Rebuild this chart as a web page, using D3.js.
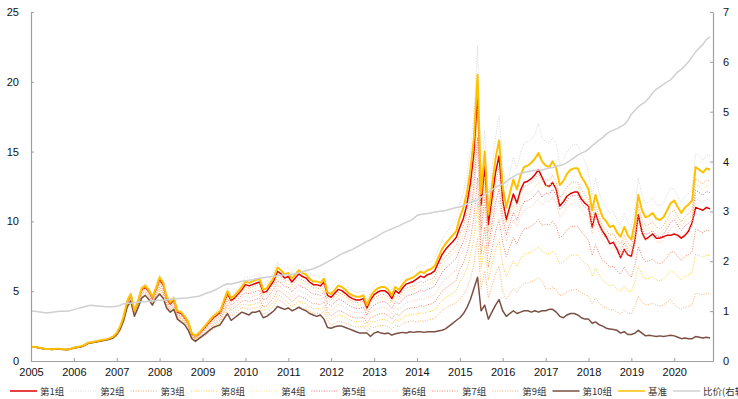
<!DOCTYPE html>
<html><head><meta charset="utf-8">
<script src="https://cdn.jsdelivr.net/npm/d3@7"></script>
<style>
body{margin:0;background:#fff}
svg{display:block}
.axis text{font-family:"Liberation Sans",Arial,sans-serif;font-size:11px;fill:#111}
.axis path,.axis line{stroke:#a0a0a0}
.leg text{font-family:"Noto Sans CJK SC","Liberation Sans",sans-serif;font-size:9.5px;fill:#333}
</style>
</head><body>
<svg id="c" width="738" height="399"></svg>
<script>
// ---- data ----
const dates = d3.timeMonth.range(new Date(2005,0,1), new Date(2020,11,1)); // Jan 2005 .. Nov 2020
const yearTicks = [2005,2006,2007,2008,2009,2010,2011,2012,2013,2014,2015,2016,2017,2018,2019,2020];
const leftTicks = [0,5,10,15,20,25];
const rightTicks = [0,1,2,3,4,5,6,7];

const g1 = [1.00,1.02,0.96,0.93,0.86,0.86,0.84,0.88,0.87,0.84,0.82,0.86,
0.95,1.00,1.04,1.14,1.29,1.33,1.38,1.43,1.48,1.53,1.60,1.72,
1.96,2.45,3.14,4.21,4.70,3.53,4.21,5.10,5.29,5.00,4.51,5.10,
5.82,5.43,4.46,4.07,4.37,3.49,3.40,3.10,2.72,1.94,1.75,1.94,
2.21,2.50,2.78,3.07,3.26,3.46,4.13,4.80,4.32,4.51,4.80,5.09,
5.47,5.38,5.47,5.57,5.66,4.90,4.99,5.38,5.76,6.43,6.24,5.95,
6.05,5.66,5.95,6.24,6.05,5.95,5.66,5.47,5.47,5.38,5.66,4.70,
4.56,4.85,5.13,5.04,4.85,4.61,4.47,4.37,4.37,4.47,3.80,4.37,
4.75,4.94,5.04,5.04,4.85,4.47,5.04,4.85,5.23,5.51,5.61,5.70,
5.89,6.08,5.99,6.18,6.27,6.46,7.03,7.60,7.98,8.27,8.55,8.84,
9.58,10.23,11.16,12.74,14.88,19.07,11.16,13.95,9.77,11.63,13.49,14.69,
11.50,10.12,11.04,11.96,11.32,12.24,12.79,12.88,13.06,13.34,13.71,13.16,
12.6,12.5,12.8,12.3,11.1,11.4,11.8,12.0,12.1,12.1,11.6,11.3,
11.1,9.6,10.6,9.8,9.3,8.9,8.4,8.5,8.0,7.4,8.0,7.6,
7.5,8.7,10.5,9.2,8.7,8.9,9.1,8.8,8.8,8.9,9.0,9.0,
9.1,9.0,8.8,9.0,9.3,9.9,11.0,10.9,10.8,11.0,10.9];

const g2 = [1.00,1.02,0.96,0.93,0.86,0.86,0.84,0.88,0.87,0.84,0.82,0.86,
0.96,1.01,1.06,1.17,1.32,1.38,1.43,1.48,1.53,1.58,1.66,1.79,
2.06,2.58,3.30,4.43,4.94,3.71,4.43,5.36,5.56,5.25,4.74,5.36,
6.24,5.82,4.78,4.37,4.68,3.74,3.64,3.33,2.91,2.08,1.87,2.08,
2.42,2.73,3.05,3.36,3.57,3.78,4.52,5.25,4.73,4.94,5.25,5.57,
6.04,5.94,6.04,6.15,6.25,5.41,5.51,5.94,6.36,7.10,6.89,6.57,
6.74,6.31,6.63,6.96,6.74,6.63,6.31,6.10,6.10,5.99,6.31,5.24,
5.14,5.46,5.78,5.67,5.46,5.19,5.03,4.92,4.92,5.03,4.28,4.92,
5.40,5.62,5.72,5.72,5.51,5.08,5.72,5.51,5.94,6.26,6.37,6.48,
6.70,6.91,6.80,7.02,7.13,7.34,7.99,8.64,9.07,9.40,9.72,10.04,
11.3,12.1,13.2,15.1,17.6,22.6,13.2,16.5,11.6,13.8,16.0,17.6,
14.0,12.3,13.4,14.6,13.8,14.9,15.6,15.7,15.9,16.2,17.0,16.0,
15.7,15.6,16.0,15.5,14.1,14.4,15.0,15.3,15.5,15.5,14.8,14.3,
13.5,11.9,13.1,12.1,11.3,11.0,10.6,10.7,10.1,9.8,10.6,9.9,
9.6,11.0,13.1,11.9,11.3,11.4,11.7,11.2,11.1,11.3,11.9,12.4,
12.3,11.8,11.3,11.8,12.0,12.3,14.9,14.7,14.4,14.8,14.7];

const g3 = [1.00,1.02,0.96,0.93,0.86,0.86,0.84,0.88,0.87,0.84,0.82,0.86,
0.94,0.99,1.04,1.14,1.29,1.34,1.39,1.44,1.49,1.53,1.60,1.73,
1.96,2.45,3.14,4.21,4.70,3.53,4.21,5.10,5.29,5.00,4.51,5.10,
5.76,5.38,4.42,4.03,4.32,3.46,3.36,3.07,2.69,1.92,1.73,1.92,
2.19,2.47,2.76,3.04,3.23,3.42,4.09,4.75,4.28,4.47,4.75,5.04,
5.30,5.21,5.30,5.39,5.49,4.74,4.84,5.21,5.58,6.23,6.05,5.77,
5.80,5.43,5.70,5.98,5.80,5.70,5.43,5.24,5.24,5.15,5.43,4.51,
4.37,4.64,4.91,4.82,4.64,4.41,4.28,4.19,4.19,4.28,3.64,4.19,
4.50,4.68,4.77,4.77,4.59,4.23,4.77,4.59,4.95,5.22,5.31,5.40,
5.52,5.70,5.61,5.79,5.87,6.05,6.59,7.12,7.48,7.74,8.01,8.28,
9.06,9.68,10.56,12.06,14.08,18.04,10.56,13.20,9.24,11.00,12.76,13.90,
11.25,9.90,10.80,11.70,11.07,11.97,12.51,12.60,12.78,13.05,13.41,12.87,
13.02,12.93,13.30,12.83,11.72,12.00,12.46,12.74,12.83,12.83,12.28,11.90,
11.56,10.15,11.19,10.34,9.68,9.40,9.02,9.12,8.65,8.37,9.02,8.46,
8.18,9.40,11.19,10.15,9.68,9.78,9.96,9.59,9.49,9.68,10.15,10.62,
10.81,10.34,9.96,10.34,10.53,10.81,13.07,12.88,12.69,12.97,12.88];

const g4 = [1.00,1.02,0.96,0.93,0.86,0.86,0.84,0.88,0.87,0.84,0.82,0.86,
0.94,0.99,1.04,1.14,1.29,1.34,1.39,1.44,1.49,1.53,1.60,1.73,
1.92,2.40,3.07,4.13,4.61,3.46,4.13,4.99,5.18,4.90,4.42,4.99,
5.64,5.26,4.32,3.95,4.23,3.38,3.29,3.01,2.63,1.88,1.69,1.88,
2.12,2.39,2.67,2.94,3.13,3.31,3.96,4.60,4.14,4.32,4.60,4.88,
5.13,5.04,5.13,5.22,5.31,4.59,4.68,5.04,5.40,6.03,5.85,5.58,
5.54,5.19,5.46,5.72,5.54,5.46,5.19,5.02,5.02,4.93,5.19,4.31,
4.18,4.44,4.70,4.61,4.44,4.22,4.09,4.00,4.00,4.09,3.48,4.00,
4.30,4.47,4.56,4.56,4.39,4.04,4.56,4.39,4.73,4.99,5.07,5.16,
5.27,5.44,5.36,5.53,5.61,5.78,6.29,6.80,7.14,7.40,7.65,7.91,
8.55,9.13,9.96,11.37,13.28,17.02,9.96,12.45,8.72,10.38,12.04,13.11,
10.75,9.46,10.32,11.18,10.58,11.44,11.95,12.04,12.21,12.47,12.81,12.30,
12.60,12.51,12.87,12.42,11.34,11.61,12.06,12.33,12.42,12.42,11.88,11.52,
11.19,9.83,10.83,10.01,9.37,9.10,8.74,8.83,8.37,8.10,8.74,8.19,
7.92,9.10,10.83,9.83,9.37,9.46,9.65,9.28,9.19,9.37,9.83,10.28,
10.47,10.01,9.65,10.01,10.19,10.47,12.65,12.47,12.29,12.56,12.47];

const g5 = [1.00,1.01,0.95,0.92,0.85,0.85,0.83,0.87,0.86,0.83,0.81,0.85,
0.93,0.98,1.03,1.13,1.27,1.32,1.37,1.42,1.47,1.52,1.59,1.72,
1.90,2.38,3.04,4.09,4.56,3.42,4.09,4.94,5.13,4.85,4.37,4.94,
5.52,5.15,4.23,3.86,4.14,3.31,3.22,2.94,2.58,1.84,1.66,1.84,
2.05,2.31,2.58,2.85,3.03,3.20,3.83,4.45,4.01,4.18,4.45,4.72,
4.90,4.82,4.90,4.99,5.07,4.39,4.47,4.82,5.16,5.76,5.59,5.33,
5.29,4.96,5.21,5.46,5.29,5.21,4.96,4.79,4.79,4.70,4.96,4.12,
3.94,4.18,4.43,4.35,4.18,3.98,3.85,3.77,3.77,3.85,3.28,3.77,
4.00,4.16,4.24,4.24,4.08,3.76,4.24,4.08,4.40,4.64,4.72,4.80,
4.90,5.06,4.98,5.14,5.21,5.37,5.85,6.32,6.64,6.87,7.11,7.35,
8.03,8.58,9.36,10.69,12.48,15.99,9.36,11.70,8.19,9.75,11.31,12.32,
10.25,9.02,9.84,10.66,10.09,10.91,11.40,11.48,11.64,11.89,12.22,11.73,
12.04,11.95,12.30,11.87,10.84,11.09,11.52,11.78,11.87,11.87,11.35,11.01,
10.82,9.50,10.47,9.68,9.06,8.80,8.45,8.54,8.10,7.83,8.45,7.92,
7.66,8.80,10.47,9.50,9.06,9.15,9.33,8.98,8.89,9.06,9.50,9.94,
10.12,9.68,9.33,9.68,9.86,10.12,12.23,12.06,11.88,12.14,12.06];

const g6 = [0.99,1.01,0.95,0.92,0.85,0.85,0.83,0.87,0.86,0.83,0.81,0.85,
0.92,0.97,1.02,1.12,1.26,1.31,1.36,1.41,1.46,1.50,1.57,1.70,
1.86,2.33,2.98,4.00,4.46,3.35,4.00,4.84,5.02,4.74,4.28,4.84,
5.40,5.04,4.14,3.78,4.05,3.24,3.15,2.88,2.52,1.80,1.62,1.80,
1.96,2.21,2.47,2.72,2.89,3.06,3.66,4.25,3.83,4.00,4.25,4.51,
4.62,4.54,4.62,4.70,4.78,4.13,4.21,4.54,4.86,5.43,5.27,5.02,
4.91,4.60,4.84,5.07,4.91,4.84,4.60,4.45,4.45,4.37,4.60,3.82,
3.60,3.83,4.05,3.98,3.83,3.64,3.53,3.45,3.45,3.53,3.00,3.45,
3.60,3.74,3.82,3.82,3.67,3.38,3.82,3.67,3.96,4.18,4.25,4.32,
4.34,4.48,4.41,4.55,4.62,4.76,5.18,5.60,5.88,6.09,6.30,6.51,
7.52,8.03,8.76,10.00,11.68,14.97,8.76,10.95,7.67,9.13,10.59,11.53,
9.75,8.58,9.36,10.14,9.59,10.37,10.84,10.92,11.08,11.31,11.62,11.15,
11.48,11.40,11.73,11.32,10.33,10.58,10.99,11.23,11.32,11.32,10.82,10.50,
10.33,9.07,10.00,9.24,8.65,8.40,8.06,8.15,7.73,7.48,8.06,7.56,
7.31,8.40,10.00,9.07,8.65,8.74,8.90,8.57,8.48,8.65,9.07,9.49,
9.66,9.24,8.90,9.24,9.41,9.66,11.68,11.51,11.34,11.59,11.51];

const g7 = [0.99,1.01,0.95,0.92,0.85,0.85,0.83,0.87,0.86,0.83,0.81,0.85,
0.92,0.97,1.02,1.12,1.26,1.31,1.36,1.41,1.46,1.50,1.57,1.70,
1.84,2.30,2.94,3.96,4.42,3.31,3.96,4.78,4.97,4.69,4.23,4.78,
5.28,4.93,4.05,3.70,3.96,3.17,3.08,2.82,2.46,1.76,1.58,1.76,
1.86,2.11,2.35,2.59,2.75,2.92,3.48,4.05,3.65,3.81,4.05,4.29,
4.33,4.26,4.33,4.41,4.48,3.88,3.95,4.26,4.56,5.09,4.94,4.71,
4.54,4.25,4.46,4.68,4.54,4.46,4.25,4.10,4.10,4.03,4.25,3.53,
3.22,3.42,3.62,3.55,3.42,3.25,3.15,3.08,3.08,3.15,2.68,3.08,
3.20,3.33,3.39,3.39,3.26,3.01,3.39,3.26,3.52,3.71,3.78,3.84,
3.84,3.97,3.91,4.03,4.09,4.22,4.59,4.96,5.21,5.39,5.58,5.77,
6.59,7.04,7.68,8.77,10.24,13.12,7.68,9.60,6.72,8.00,9.28,10.11,
8.50,7.48,8.16,8.84,8.36,9.04,9.45,9.52,9.66,9.86,10.13,9.72,
9.80,9.73,10.01,9.66,8.82,9.03,9.38,9.59,9.66,9.66,9.24,8.96,
8.61,7.56,8.33,7.70,7.21,7.00,6.72,6.79,6.44,6.23,6.72,6.30,
6.00,6.90,8.21,7.45,7.11,7.18,7.31,7.04,6.97,7.11,7.45,7.80,
7.82,7.48,7.21,7.48,7.62,7.82,9.45,9.32,9.18,9.38,9.32];

const g8 = [0.99,1.01,0.95,0.92,0.85,0.85,0.83,0.87,0.86,0.83,0.81,0.85,
0.91,0.96,1.01,1.10,1.25,1.30,1.34,1.39,1.44,1.49,1.56,1.68,
1.80,2.25,2.88,3.87,4.32,3.24,3.87,4.68,4.86,4.59,4.14,4.68,
5.16,4.82,3.96,3.61,3.87,3.10,3.01,2.75,2.41,1.72,1.55,1.72,
1.77,2.00,2.23,2.46,2.62,2.77,3.31,3.85,3.47,3.62,3.85,4.08,
4.05,3.98,4.05,4.12,4.19,3.62,3.69,3.98,4.26,4.76,4.62,4.40,
4.16,3.89,4.09,4.29,4.16,4.09,3.89,3.76,3.76,3.70,3.89,3.23,
2.93,3.11,3.29,3.23,3.11,2.96,2.87,2.81,2.81,2.87,2.44,2.81,
2.80,2.91,2.97,2.97,2.86,2.63,2.97,2.86,3.08,3.25,3.30,3.36,
3.35,3.46,3.40,3.51,3.56,3.67,4.00,4.32,4.54,4.70,4.86,5.02,
5.67,6.05,6.60,7.54,8.80,11.28,6.60,8.25,5.78,6.88,7.98,8.69,
6.88,6.05,6.60,7.15,6.77,7.32,7.65,7.70,7.81,7.98,8.20,7.87,
7.70,7.65,7.87,7.59,6.93,7.10,7.37,7.54,7.59,7.59,7.26,7.04,
6.89,6.05,6.66,6.16,5.77,5.60,5.38,5.43,5.15,4.98,5.38,5.04,
4.96,5.70,6.78,6.16,5.87,5.93,6.04,5.81,5.76,5.87,6.16,6.44,
6.33,6.05,5.83,6.05,6.16,6.33,7.65,7.54,7.43,7.59,7.54];

const g9 = [0.99,1.01,0.95,0.92,0.85,0.85,0.83,0.87,0.86,0.83,0.81,0.85,
0.90,0.95,1.00,1.09,1.24,1.28,1.33,1.38,1.43,1.47,1.54,1.66,
1.76,2.20,2.82,3.78,4.22,3.17,3.78,4.58,4.75,4.49,4.05,4.58,
4.98,4.65,3.82,3.49,3.74,2.99,2.91,2.66,2.32,1.66,1.49,1.66,
1.66,1.87,2.09,2.30,2.45,2.59,3.10,3.60,3.24,3.38,3.60,3.82,
3.76,3.70,3.76,3.83,3.89,3.37,3.43,3.70,3.96,4.42,4.29,4.09,
3.78,3.54,3.72,3.90,3.78,3.72,3.54,3.42,3.42,3.36,3.54,2.94,
2.54,2.70,2.86,2.81,2.70,2.57,2.49,2.44,2.44,2.49,2.12,2.44,
2.40,2.50,2.54,2.54,2.45,2.26,2.54,2.45,2.64,2.78,2.83,2.88,
2.79,2.88,2.84,2.93,2.97,3.06,3.33,3.60,3.78,3.92,4.05,4.19,
4.43,4.73,5.16,5.89,6.88,8.82,5.16,6.45,4.52,5.38,6.24,6.79,
5.00,4.40,4.80,5.20,4.92,5.32,5.56,5.60,5.68,5.80,5.96,5.72,
5.18,5.14,5.29,5.11,4.66,4.77,4.96,5.07,5.11,5.11,4.88,4.74,
4.67,4.10,4.52,4.18,3.91,3.80,3.65,3.69,3.50,3.38,3.65,3.42,
3.39,3.90,4.64,4.21,4.02,4.06,4.13,3.98,3.94,4.02,4.21,4.41,
4.03,3.85,3.71,3.85,3.92,4.03,4.87,4.80,4.73,4.83,4.80];

const g10 = [1.00,1.00,0.95,0.90,0.85,0.85,0.82,0.86,0.85,0.82,0.80,0.84,
0.92,0.97,1.00,1.10,1.25,1.30,1.35,1.40,1.45,1.50,1.55,1.65,
1.90,2.30,2.90,3.90,4.30,3.20,3.80,4.50,4.70,4.40,4.00,4.50,
4.80,4.50,3.80,3.50,3.70,3.00,2.80,2.60,2.20,1.60,1.40,1.60,
1.80,2.00,2.20,2.40,2.50,2.60,3.00,3.40,2.90,3.10,3.30,3.50,
3.40,3.30,3.50,3.50,3.60,3.10,3.20,3.40,3.60,3.90,3.80,3.70,
3.80,3.60,3.70,3.85,3.70,3.60,3.40,3.30,3.20,3.30,3.00,2.40,
2.35,2.45,2.50,2.50,2.40,2.30,2.20,2.10,2.00,2.00,2.00,1.75,
2.00,2.10,2.00,1.95,2.00,1.85,1.95,2.00,2.05,2.00,2.10,2.05,
2.10,2.10,2.05,2.10,2.10,2.10,2.15,2.20,2.30,2.50,2.70,2.90,
3.10,3.40,3.80,4.40,5.20,6.00,3.60,4.00,3.00,3.50,4.00,4.40,
3.60,3.20,3.40,3.60,3.40,3.50,3.60,3.60,3.50,3.60,3.50,3.60,
3.60,3.70,3.70,3.50,3.20,3.10,3.30,3.40,3.40,3.30,3.10,3.00,
3.00,2.70,2.80,2.60,2.50,2.35,2.30,2.25,2.20,2.00,2.10,1.90,
1.90,2.00,2.20,2.00,1.80,1.85,1.80,1.75,1.80,1.75,1.80,1.85,
1.80,1.70,1.60,1.65,1.60,1.60,1.75,1.70,1.65,1.70,1.65];

const benchmark = [1.00,1.02,0.96,0.93,0.86,0.86,0.84,0.88,0.87,0.84,0.82,0.86,
0.95,1.00,1.05,1.15,1.30,1.35,1.40,1.45,1.50,1.55,1.62,1.75,
2.00,2.50,3.20,4.30,4.80,3.60,4.30,5.20,5.40,5.10,4.60,5.20,
6.00,5.60,4.60,4.20,4.50,3.60,3.50,3.20,2.80,2.00,1.80,2.00,
2.30,2.60,2.90,3.20,3.40,3.60,4.30,5.00,4.50,4.70,5.00,5.30,
5.70,5.60,5.70,5.80,5.90,5.10,5.20,5.60,6.00,6.70,6.50,6.20,
6.30,5.90,6.20,6.50,6.30,6.20,5.90,5.70,5.70,5.60,5.90,4.90,
4.80,5.10,5.40,5.30,5.10,4.85,4.70,4.60,4.60,4.70,4.00,4.60,
5.00,5.20,5.30,5.30,5.10,4.70,5.30,5.10,5.50,5.80,5.90,6.00,
6.20,6.40,6.30,6.50,6.60,6.80,7.40,8.00,8.40,8.70,9.00,9.30,
10.3,11.0,12.0,13.7,16.0,20.5,12.0,15.0,10.5,12.5,14.5,15.8,
12.5,11.0,12.0,13.0,12.3,13.3,13.9,14.0,14.2,14.5,14.9,14.3,
14.0,13.9,14.3,13.8,12.6,12.9,13.4,13.7,13.8,13.8,13.2,12.8,
12.3,10.8,11.9,11.0,10.3,10.0,9.6,9.7,9.2,8.9,9.6,9.0,
8.7,10.0,11.9,10.8,10.3,10.4,10.6,10.2,10.1,10.3,10.8,11.3,
11.5,11.0,10.6,11.0,11.2,11.5,13.9,13.7,13.5,13.8,13.7];

const ratio = [1.00,1.00,0.99,0.98,0.97,0.97,0.98,0.99,1.00,1.00,1.00,1.01,
1.03,1.05,1.07,1.09,1.11,1.12,1.11,1.10,1.10,1.09,1.09,1.09,
1.10,1.12,1.15,1.16,1.16,1.17,1.18,1.19,1.19,1.20,1.20,1.21,
1.22,1.22,1.23,1.24,1.24,1.25,1.26,1.26,1.27,1.28,1.29,1.30,
1.33,1.36,1.38,1.41,1.44,1.48,1.52,1.55,1.54,1.56,1.58,1.60,
1.61,1.62,1.63,1.65,1.66,1.67,1.68,1.69,1.70,1.71,1.72,1.73,
1.73,1.74,1.75,1.77,1.79,1.81,1.83,1.85,1.88,1.91,1.95,1.99,
2.03,2.07,2.11,2.15,2.18,2.21,2.24,2.28,2.32,2.36,2.40,2.43,
2.47,2.51,2.55,2.59,2.62,2.65,2.68,2.71,2.75,2.78,2.81,2.85,
2.92,2.94,2.95,2.96,2.97,2.99,3.00,3.01,3.02,3.04,3.06,3.08,
3.09,3.12,3.15,3.18,3.21,3.23,3.28,3.33,3.38,3.43,3.48,3.52,
3.55,3.60,3.65,3.70,3.74,3.76,3.78,3.80,3.81,3.82,3.83,3.83,
3.85,3.87,3.88,3.90,3.92,3.94,3.98,4.03,4.08,4.13,4.17,4.20,
4.25,4.32,4.37,4.43,4.48,4.55,4.60,4.63,4.66,4.70,4.74,4.82,
4.95,5.03,5.10,5.15,5.20,5.28,5.38,5.45,5.50,5.55,5.60,5.64,
5.72,5.80,5.85,5.92,6.00,6.10,6.20,6.28,6.35,6.45,6.50];

const seriesNames = ["第1组","第2组","第3组","第8组","第4组","第5组","第6组","第7组","第9组","第10组","基准","比价(右轴)"];
const seriesValues = [g1,g2,g3,g8,g4,g5,g6,g7,g9,g10,benchmark,ratio];

// ---- styles ----
const styles = [
  {c:"#e00000", w:1.5, dash:null},
  {c:"#d8d8d8", w:1, dash:"1,1.5"},
  {c:"#f4a46c", w:1, dash:"1,1.5"},
  {c:"#ffcc33", w:1, dash:"1,1.5"},
  {c:"#ffdf80", w:1, dash:"1,1.5"},
  {c:"#e8707a", w:1, dash:"1,1.5"},
  {c:"#f8c9a8", w:1, dash:"1,1.5"},
  {c:"#ee8466", w:1, dash:"1,1.5"},
  {c:"#f7b26e", w:1, dash:"1,1.5"},
  {c:"#7a5044", w:1.5, dash:null},
  {c:"#ffc000", w:2, dash:null},
  {c:"#d0d0d0", w:1.5, dash:null}
];

const svg = d3.select("#c");
const x = d3.scaleTime().domain([new Date(2005,0,1), new Date(2020,10,26)]).range([31,713]);
const yL = d3.scaleLinear().domain([0,25]).range([361,12]);
const yR = d3.scaleLinear().domain([0,7]).range([361,12]);

// lines
const plot = svg.append("g");
seriesValues.forEach((vals,k)=>{
  const ys = k===11 ? yR : yL;
  const line = d3.line().x((d,i)=>x(dates[i])).y(d=>ys(d));
  const s = styles[k];
  plot.append("path").datum(vals).attr("d",line)
    .attr("fill","none").attr("stroke",s.c).attr("stroke-width",s.w)
    .attr("stroke-linejoin","round")
    .attr("stroke-dasharray",s.dash);
});

// axes
svg.append("g").attr("class","axis").attr("transform","translate(0,361)")
  .call(d3.axisBottom(x).tickValues(yearTicks.map(y=>new Date(y,0,1)))
    .tickFormat(d3.timeFormat("%Y")).tickSizeInner(-3).tickSizeOuter(0).tickPadding(7));
svg.append("g").attr("class","axis").attr("transform","translate(31,0)")
  .call(d3.axisLeft(yL).tickValues(leftTicks).tickFormat(d3.format("d"))
    .tickSizeInner(-3).tickSizeOuter(0).tickPadding(12));
svg.append("g").attr("class","axis").attr("transform","translate(713,0)")
  .call(d3.axisRight(yR).tickValues(rightTicks).tickFormat(d3.format("d"))
    .tickSizeInner(-3).tickSizeOuter(0).tickPadding(10));
svg.selectAll(".axis .domain").attr("stroke-width",1.2);

// legend
const leg = svg.append("g").attr("class","leg");
let lx = 10;
seriesNames.forEach((name,k)=>{
  const s = styles[k];
  const g = leg.append("g").attr("transform",`translate(${lx},391)`);
  g.append("line").attr("x1",0).attr("x2",27).attr("y1",0).attr("y2",0)
    .attr("stroke",s.c).attr("stroke-width",s.w===2?1.5:s.w).attr("stroke-dasharray",s.dash);
  const t = g.append("text").attr("x",30).attr("y",3.5).text(name);
  const w = t.node().getComputedTextLength();
  lx += 30 + w + 6;
});
</script>
</body></html>
